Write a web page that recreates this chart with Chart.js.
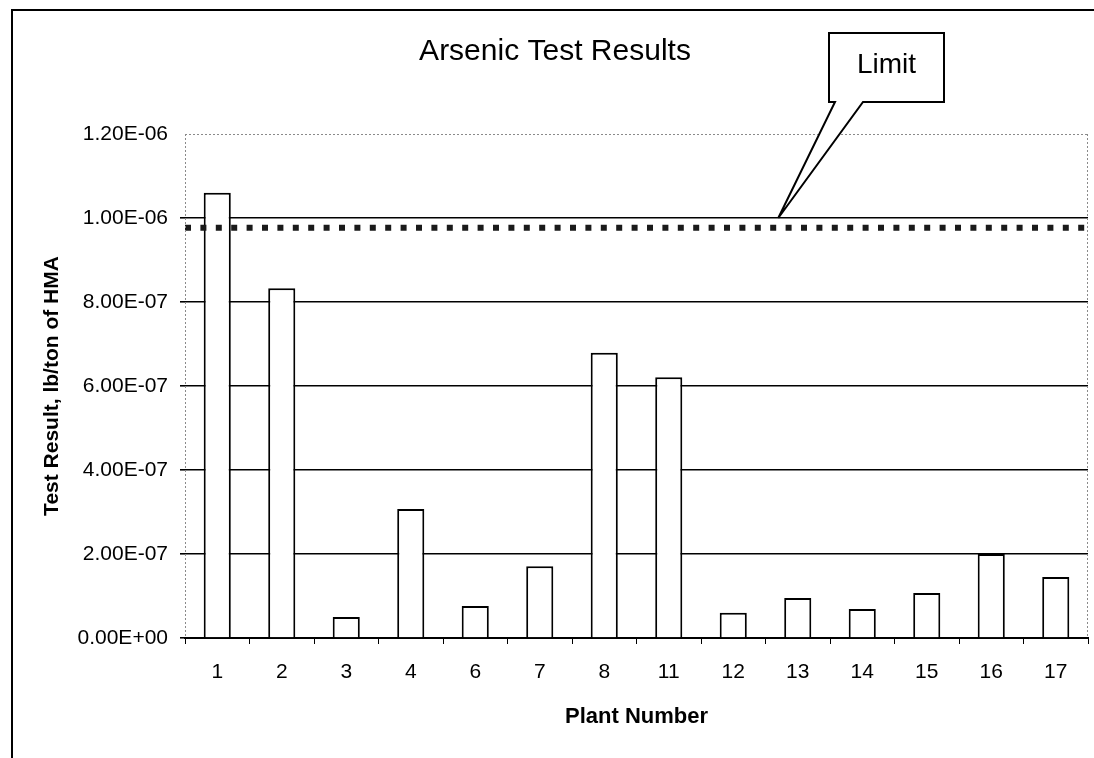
<!DOCTYPE html>
<html>
<head>
<meta charset="utf-8">
<script src="https://cdn.jsdelivr.net/npm/chart.js@4.4.1/dist/chart.umd.min.js"></script>
<style>
  html, body { margin: 0; padding: 0; background: #fff; }
  #wrap { position: relative; width: 1094px; height: 758px; }
</style>
</head>
<body>
<div id="wrap"><canvas id="c" width="1094" height="758"></canvas></div>
<script>
// ---- data ----
const plants = ['1', '2', '3', '4', '6', '7', '8', '11', '12', '13', '14', '15', '16', '17'];
const arsenic = [1.06e-6, 8.33e-7, 5.0e-8, 3.07e-7, 7.6e-8, 1.71e-7, 6.79e-7, 6.21e-7, 6.0e-8, 9.5e-8, 6.9e-8, 1.07e-7, 2.0e-7, 1.45e-7];
const limitMarkers = [9.77e-7, 9.77e-7];   // dashed marker row drawn under the limit
const limitValue = 1.0e-6;                 // limit the callout points at
const yTickValues = [0, 2e-7, 4e-7, 6e-7, 8e-7, 1.0e-6, 1.2e-6];
const yTickLabels = ['0.00E+00', '2.00E-07', '4.00E-07', '6.00E-07', '8.00E-07', '1.00E-06', '1.20E-06'];
const calloutText = 'Limit';
const calloutAt = 0.657; // fraction along the plot width where the callout points

const FONT = "'Liberation Sans', Arial, sans-serif";

const decor = {
  id: 'decor',
  beforeDraw(chart) {
    const ctx = chart.ctx;
    ctx.save();
    ctx.fillStyle = '#fff';
    ctx.fillRect(0, 0, chart.width, chart.height);
    // outer frame (top and left)
    ctx.strokeStyle = '#000';
    ctx.lineWidth = 2;
    ctx.beginPath();
    ctx.moveTo(12, chart.height);
    ctx.lineTo(12, 10);
    ctx.lineTo(chart.width, 10);
    ctx.stroke();
    ctx.restore();
  },
  afterDatasetsDraw(chart) {
    const ctx = chart.ctx;
    const a = chart.chartArea;
    ctx.save();
    // dotted plot-area top, left and right edges
    ctx.strokeStyle = '#8a8a8a';
    ctx.lineWidth = 1;
    ctx.setLineDash([2, 2]);
    ctx.beginPath();
    ctx.moveTo(a.left, a.top + 0.5);
    ctx.lineTo(a.right, a.top + 0.5);
    ctx.moveTo(a.right - 0.5, a.top);
    ctx.lineTo(a.right - 0.5, a.bottom);
    ctx.moveTo(a.left + 0.5, a.top);
    ctx.lineTo(a.left + 0.5, a.bottom);
    ctx.stroke();
    ctx.setLineDash([]);
    // callout
    const x2 = chart.scales.x2, y = chart.scales.y;
    const tipX = x2.getPixelForValue(calloutAt);
    const tipY = y.getPixelForValue(limitValue);
    const bx0 = a.right - 259, bx1 = a.right - 144, by0 = 33, by1 = 102;
    const w0 = bx0 + 6, w1 = bx0 + 34;
    ctx.fillStyle = '#fff';
    ctx.strokeStyle = '#000';
    ctx.lineWidth = 2;
    ctx.beginPath();
    ctx.moveTo(bx0, by0);
    ctx.lineTo(bx1, by0);
    ctx.lineTo(bx1, by1);
    ctx.lineTo(w1, by1);
    ctx.lineTo(tipX, tipY);
    ctx.lineTo(w0, by1);
    ctx.lineTo(bx0, by1);
    ctx.closePath();
    ctx.fill();
    ctx.stroke();
    ctx.fillStyle = '#000';
    ctx.font = '28px ' + FONT;
    ctx.textAlign = 'center';
    ctx.textBaseline = 'middle';
    ctx.fillText(calloutText, (bx0 + bx1) / 2, (by0 + by1) / 2 - 2);
    ctx.restore();
  }
};

new Chart(document.getElementById('c'), {
  data: {
    labels: plants,
    datasets: [
      {
        type: 'bar',
        data: arsenic,
        backgroundColor: '#ffffff',
        borderColor: '#000000',
        borderWidth: 2,
        barPercentage: 0.42,
        categoryPercentage: 1.0,
        grouped: false,
        xAxisID: 'x',
        order: 2
      },
      {
        type: 'line',
        data: [{ x: 0, y: limitMarkers[0] }, { x: 1, y: limitMarkers[1] }],
        xAxisID: 'x2',
        borderColor: '#1a1a1a',
        borderWidth: 6,
        borderDash: [6, 9.4],
        pointRadius: 0,
        fill: false,
        order: 1
      }
    ]
  },
  options: {
    responsive: false,
    animation: false,
    events: [],
    layout: { padding: { left: 22, right: 6, top: 0, bottom: 0 } },
    plugins: {
      legend: { display: false },
      tooltip: { enabled: false },
      title: {
        display: true,
        text: 'Arsenic Test Results',
        color: '#000',
        font: { family: FONT, size: 30, weight: 'normal', lineHeight: 1.2 },
        padding: { top: 34, bottom: 64 }
      }
    },
    scales: {
      x: {
        type: 'category',
        offset: true,
        grid: {
          display: true,
          drawOnChartArea: false,
          drawTicks: true,
          tickLength: 6,
          color: '#000',
          lineWidth: 1
        },
        border: { display: true, color: '#000', width: 2 },
        ticks: {
          color: '#000',
          font: { family: FONT, size: 21 },
          padding: 16,
          maxRotation: 0,
          autoSkip: false
        },
        title: {
          display: true,
          text: 'Plant Number',
          color: '#000',
          font: { family: FONT, size: 22, weight: 'bold', lineHeight: 1.2 },
          padding: { top: 18, bottom: 28 }
        },
        afterFit(s) { s.height = 120; }
      },
      x2: {
        type: 'linear',
        display: false,
        min: 0,
        max: 1
      },
      y: {
        type: 'linear',
        min: 0,
        max: 1.2e-6,
        afterBuildTicks(s) { s.ticks = yTickValues.map(v => ({ value: v })); },
        grid: {
          color: (c) => (c.tick && c.tick.value >= 1.2e-6 - 1e-12) ? 'rgba(0,0,0,0)' : '#000',
          lineWidth: 1.6,
          drawTicks: true,
          tickLength: 5
        },
        border: { display: false },
        ticks: {
          color: '#000',
          font: { family: FONT, size: 21 },
          padding: 12,
          callback: (v, i) => yTickLabels[i]
        },
        title: {
          display: true,
          text: 'Test Result, lb/ton of HMA',
          color: '#000',
          font: { family: FONT, size: 21, weight: 'bold', lineHeight: 1.2 },
          padding: { top: 18, bottom: 10 }
        },
        afterFit(s) { s.width = 163; }
      }
    }
  },
  plugins: [decor]
});
</script>
</body>
</html>
